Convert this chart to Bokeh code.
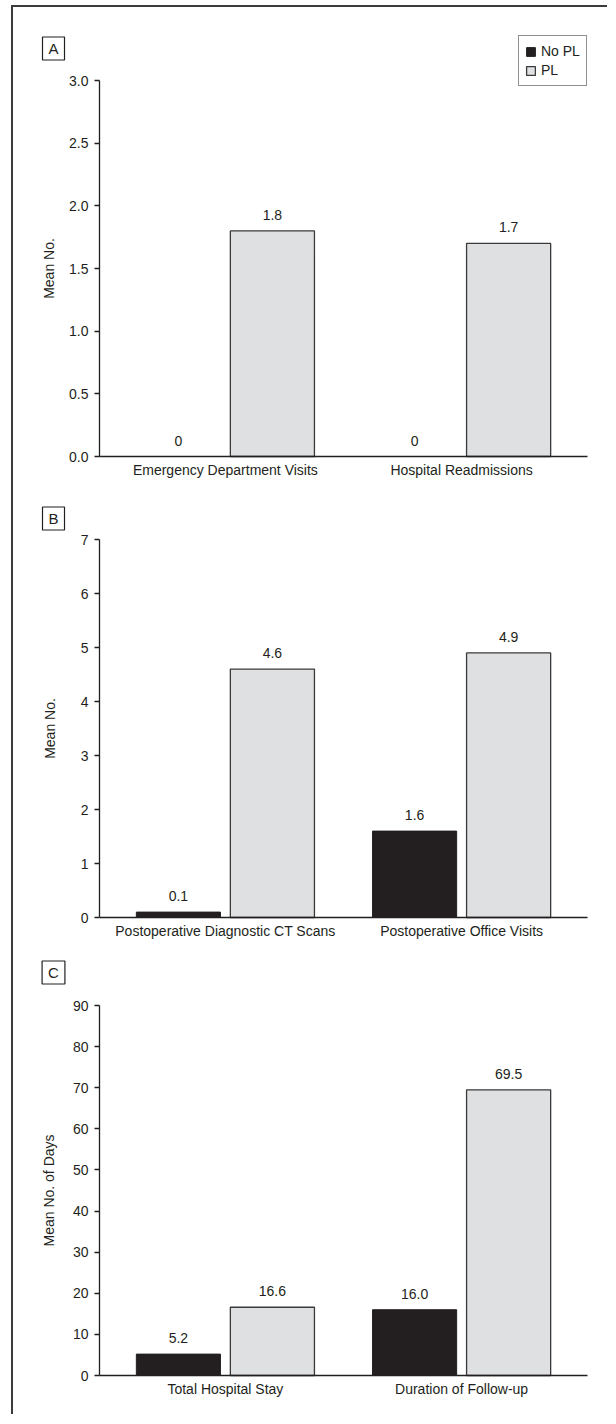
from bokeh.plotting import figure
from bokeh.models import (ColumnDataSource, Range1d, FixedTicker, Label,
                          LabelSet, Legend, LegendItem, NumeralTickFormatter)
from bokeh.core.properties import value
from bokeh.layouts import column
from bokeh.embed import file_html
from bokeh.resources import INLINE

# ---------------- data ----------------
series_names = ["No PL", "PL"]

cats_a = ["Emergency Department Visits", "Hospital Readmissions"]
no_pl_a = [0.0, 0.0]
pl_a = [1.8, 1.7]
ticks_a = [0.0, 0.5, 1.0, 1.5, 2.0, 2.5, 3.0]

cats_b = ["Postoperative Diagnostic CT Scans", "Postoperative Office Visits"]
no_pl_b = [0.1, 1.6]
pl_b = [4.6, 4.9]
ticks_b = [0, 1, 2, 3, 4, 5, 6, 7]

cats_c = ["Total Hospital Stay", "Duration of Follow-up"]
no_pl_c = [5.2, 16.0]
pl_c = [16.6, 69.5]
ticks_c = [0, 10, 20, 30, 40, 50, 60, 70, 80, 90]

# ---------------- style / layout ----------------
FONT = "Liberation Sans"
FS = "14px"
INK = "#231f20"
LIGHT = "#dfe0e2"
EDGE = "#3a3a3a"
PAD = 0.033          # padding (in category widths) at both ends of the x axis
OFF = 0.199          # bar offset from category centre
W = 0.356            # bar width
FIG_W = 594
LEFT_PX = 86         # from figure edge to y axis
RIGHT_PX = 20        # from end of x axis to figure edge
AXIS_W = FIG_W - LEFT_PX - RIGHT_PX
CAT_PX = AXIS_W / (2 + 2 * PAD)


def lbl(v, keep_decimal):
    if v == 0 and not keep_decimal:
        return "0"
    return f"{v:.1f}"


def panel(letter, cats, nopl, pl, ticks, fmt, ylabel, height, top,
          axis_h, box_above, ylab_standoff, keep_decimal, legend=False):
    n = len(cats)
    bottom = height - top - axis_h
    span = ticks[-1] - ticks[0]
    upp = span / axis_h  # data units per pixel
    x0 = -PAD - LEFT_PX / CAT_PX
    x1 = n + PAD + RIGHT_PX / CAT_PX
    p = figure(x_range=Range1d(x0, x1),
               y_range=Range1d(ticks[0] - bottom * upp, ticks[-1] + top * upp),
               width=FIG_W, height=height, min_border=0,
               output_backend="svg", toolbar_location=None)
    p.outline_line_color = None
    p.xgrid.grid_line_color = None
    p.ygrid.grid_line_color = None
    p.background_fill_color = "white"

    xs = [i + 0.5 for i in range(n)]
    src = ColumnDataSource(dict(
        x_no=[x - OFF for x in xs], x_pl=[x + OFF for x in xs],
        nopl=nopl, pl=pl,
        nopl_lbl=[lbl(v, keep_decimal) for v in nopl],
        pl_lbl=[lbl(v, keep_decimal) for v in pl]))
    r1 = p.vbar(x="x_no", top="nopl", bottom=0, width=W,
                fill_color=INK, line_color=INK, line_width=1, source=src)
    r2 = p.vbar(x="x_pl", top="pl", bottom=0, width=W,
                fill_color=LIGHT, line_color=EDGE, line_width=1.3, source=src)

    for xcol, ycol, txt in (("x_no", "nopl", "nopl_lbl"), ("x_pl", "pl", "pl_lbl")):
        p.add_layout(LabelSet(x=xcol, y=ycol, text=txt, source=src, y_offset=11,
                              text_align="center", text_baseline="alphabetic",
                              text_font=value(FONT), text_font_size=value(FS),
                              text_color=INK))

    for ax in (p.xaxis[0], p.yaxis[0]):
        ax.axis_line_color = INK
        ax.axis_line_width = 1.3
        ax.major_label_text_font = FONT
        ax.major_label_text_font_size = FS
        ax.major_label_text_color = INK
        ax.minor_tick_line_color = None

    xa = p.xaxis[0]
    xa.fixed_location = ticks[0]
    xa.bounds = (-PAD, n + PAD)
    xa.ticker = FixedTicker(ticks=xs)
    xa.major_label_overrides = {x: c for x, c in zip(xs, cats)}
    xa.major_tick_line_color = None
    xa.major_tick_out = 0
    xa.major_tick_in = 0
    xa.major_label_standoff = 5

    ya = p.yaxis[0]
    ya.fixed_location = -PAD
    ya.bounds = (ticks[0], ticks[-1])
    ya.ticker = FixedTicker(ticks=ticks)
    ya.formatter = NumeralTickFormatter(format=fmt)
    ya.major_tick_line_color = INK
    ya.major_tick_line_width = 1.3
    ya.major_tick_out = 5
    ya.major_tick_in = 0
    ya.major_label_standoff = 6
    ya.axis_label = ylabel
    ya.axis_label_text_font = FONT
    ya.axis_label_text_font_size = FS
    ya.axis_label_text_font_style = "normal"
    ya.axis_label_text_color = INK
    ya.axis_label_standoff = ylab_standoff

    # panel letter box
    p.add_layout(Label(x=-PAD - 46 / CAT_PX, y=ticks[-1] + box_above * upp,
                       text=letter, text_align="center", text_baseline="middle",
                       text_font=FONT, text_font_size="15px", text_color=INK,
                       border_line_color=INK, border_line_width=1.2,
                       background_fill_color="white", padding=(6, 3)))

    if legend:
        leg = Legend(items=[LegendItem(label=series_names[0], renderers=[r1]),
                            LegendItem(label=series_names[1], renderers=[r2])],
                     location=(505, bottom + axis_h - 6), orientation="vertical",
                     glyph_width=11, glyph_height=11, label_height=18, spacing=1,
                     padding=6, margin=0, label_standoff=5,
                     label_text_font=FONT, label_text_font_size=FS,
                     label_text_color=INK, border_line_color=INK,
                     border_line_width=1.2, background_fill_alpha=1)
        p.add_layout(leg)
    return p


pA = panel("A", cats_a, no_pl_a, pl_a, ticks_a, "0.0", "Mean No.",
           height=483, top=73, axis_h=376, box_above=32,
           ylab_standoff=9, keep_decimal=False, legend=True)
pB = panel("B", cats_b, no_pl_b, pl_b, ticks_b, "0", "Mean No.",
           height=455, top=49, axis_h=378, box_above=21,
           ylab_standoff=20, keep_decimal=False)
pC = panel("C", cats_c, no_pl_c, pl_c, ticks_c, "0", "Mean No. of Days",
           height=469, top=60, axis_h=370, box_above=33,
           ylab_standoff=13, keep_decimal=True)

layout = column(pA, pB, pC, margin=(5, 0, 0, 11),
                styles={"border-top": "2px solid #3c3c3c",
                        "border-left": "2px solid #3c3c3c"})

open("out.html", "w").write(file_html(layout, INLINE))
